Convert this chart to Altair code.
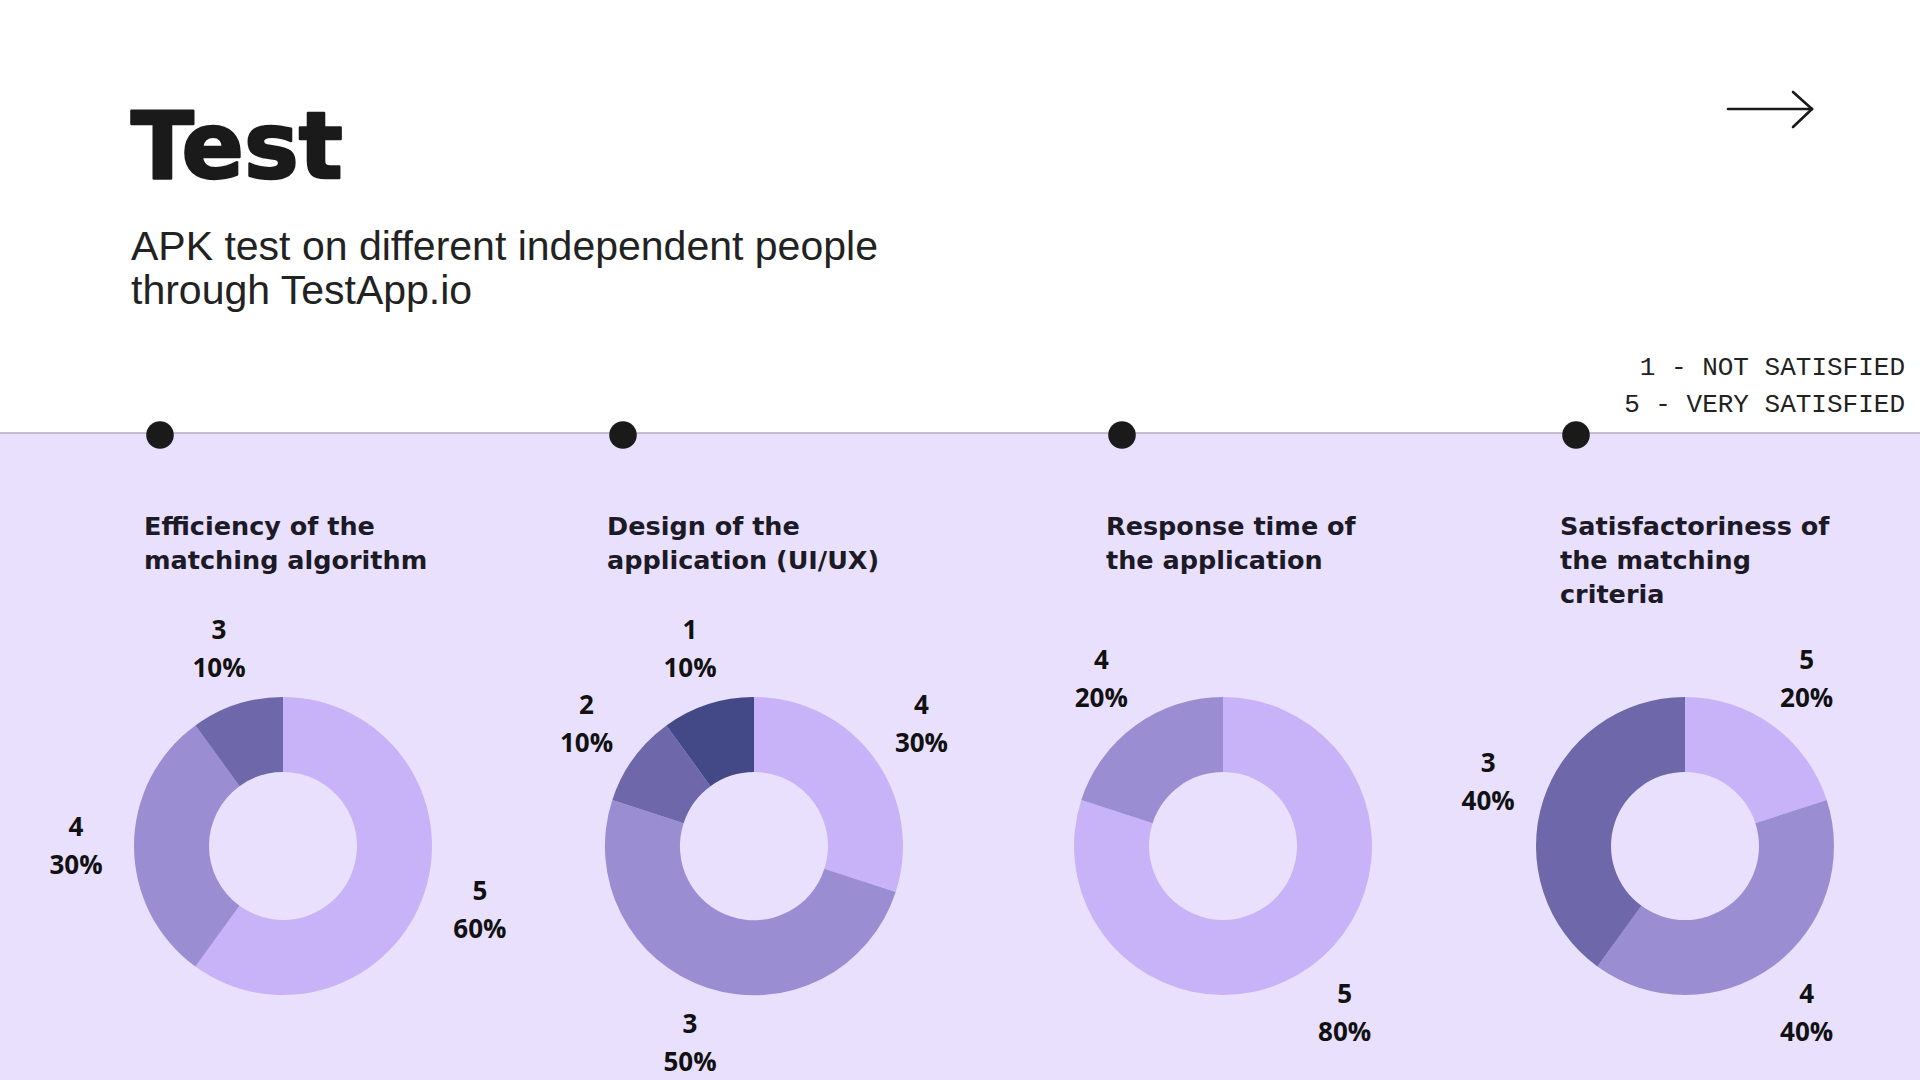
import altair as alt
import pandas as pd

# ---------------- data ----------------
TITLE_LINES = [
    ["Efficiency of the", "matching algorithm"],
    ["Design of the", "application (UI/UX)"],
    ["Response time of", "the application"],
    ["Satisfactoriness of", "the matching", "criteria"],
]
RATINGS = [[5, 4, 3], [4, 3, 2, 1], [5, 4], [5, 4, 3]]
PERCENTS = [[60, 30, 10], [30, 50, 10, 10], [80, 20], [20, 40, 40]]
LEGEND_LINES = ["1 - NOT SATISFIED", "5 - VERY SATISFIED"]
MAIN_TITLE = "Test"
SUBTITLE_LINES = ["APK test on different independent people", "through TestApp.io"]

rows = []
for q, (rs, ps) in enumerate(zip(RATINGS, PERCENTS)):
    for k, (r, p) in enumerate(zip(rs, ps)):
        rows.append({"q": q, "rating": r, "percent": p, "shade": k,
                     "label": f"{r}\n{p}%"})
df = pd.DataFrame(rows)

# ---------------- layout / style ----------------
W, H = 1920, 1080
BAND_Y = 433
DOT_X = [160, 623, 1122, 1576]
TITLE_X = [144, 607, 1106, 1560]
DONUT_X = [283, 754, 1223, 1685]
DONUT_Y = 846
SHADES = ["#C8B3F8", "#9B8DD2", "#6E67A9", "#434886"]
INK = "#1a1a1a"

one = pd.DataFrame({"k": [0]})
layers = []

# lavender band
layers.append(alt.Chart(one).mark_rect(color="#E9E0FD").encode(
    x=alt.value(0), x2=alt.value(W), y=alt.value(BAND_Y), y2=alt.value(H)))
# separator line
layers.append(alt.Chart(one).mark_rule(color="#B3ADBD", strokeWidth=1.5).encode(
    x=alt.value(0), x2=alt.value(W), y=alt.value(BAND_Y), y2=alt.value(BAND_Y)))

# main title & subtitle
layers.append(alt.Chart(one).mark_text(
    font="DejaVu Sans", fontWeight="bold", fontSize=92, align="left",
    baseline="alphabetic", color=INK, stroke=INK, strokeWidth=2.5,
    strokeJoin="round").encode(
    x=alt.value(131), y=alt.value(178), text=alt.value(MAIN_TITLE)))
layers.append(alt.Chart(one).mark_text(
    font="Liberation Sans", fontSize=41, align="left", baseline="alphabetic",
    lineHeight=44, color="#222222").encode(
    x=alt.value(131), y=alt.value(260), text=alt.value(SUBTITLE_LINES)))

# legend text
layers.append(alt.Chart(one).mark_text(
    font="Liberation Mono", fontSize=26, align="right", baseline="alphabetic",
    lineHeight=37, color="#222222").encode(
    x=alt.value(1905), y=alt.value(375), text=alt.value(LEGEND_LINES)))

# arrow
arrow_segs = [(1728, 109, 1812, 109), (1793, 92, 1812, 109), (1793, 127, 1812, 109)]
for (x1, y1, x2, y2) in arrow_segs:
    layers.append(alt.Chart(one).mark_rule(color=INK, strokeWidth=2.6, strokeCap="round").encode(
        x=alt.value(x1), y=alt.value(y1), x2=alt.value(x2), y2=alt.value(y2)))

color_scale = alt.Scale(domain=[0, 1, 2, 3], range=SHADES)

for i in range(len(RATINGS)):
    # dot on the timeline
    layers.append(alt.Chart(one).mark_circle(size=760, color=INK, opacity=1).encode(
        x=alt.value(DOT_X[i]), y=alt.value(BAND_Y + 2)))
    # panel title
    layers.append(alt.Chart(one).mark_text(
        font="DejaVu Sans", fontWeight="bold", fontSize=25.5, align="left",
        baseline="alphabetic", lineHeight=34, color="#1b1a26").encode(
        x=alt.value(TITLE_X[i]), y=alt.value(535), text=alt.value(TITLE_LINES[i])))
    base = alt.Chart(df).transform_filter(alt.datum.q == i)
    # donut
    layers.append(base.mark_arc(radius=149, radius2=74).encode(
        theta=alt.Theta("percent:Q", stack=True),
        color=alt.Color("shade:O", scale=color_scale, legend=None),
        order=alt.Order("shade:Q", sort="ascending"),
        x=alt.value(DONUT_X[i]), y=alt.value(DONUT_Y)))
    # labels
    layers.append(base.mark_text(
        radius=207, font="Open Sans", fontWeight="bold", fontSize=26,
        lineBreak="\n", lineHeight=38, align="center", baseline="middle",
        dy=-18, color="#111111").encode(
        theta=alt.Theta("percent:Q", stack=True),
        detail=alt.Detail("shade:O"),
        order=alt.Order("shade:Q", sort="ascending"),
        text=alt.Text("label:N"),
        x=alt.value(DONUT_X[i]), y=alt.value(DONUT_Y)))

chart = alt.layer(*layers).properties(
    width=W, height=H, padding=0, background="white",
    autosize=alt.AutoSizeParams(type="none"),
).configure_view(stroke=None)

chart.save("out.html", embed_options={"renderer": "svg", "actions": False})
